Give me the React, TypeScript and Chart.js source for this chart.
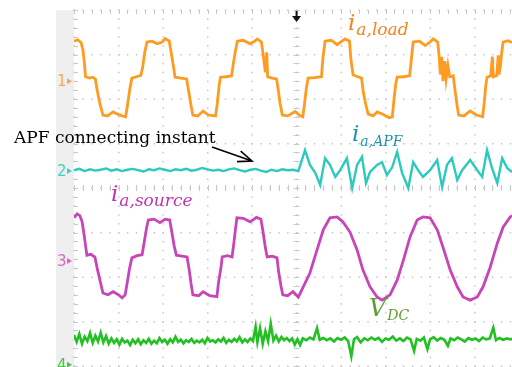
import React, { useEffect, useRef } from "react";
import { Chart, registerables } from "chart.js";

Chart.register(...registerables);

// Time axis in ms (10 ms/div), vertical axis in screen divisions (8 div, centre = 0)
const timeRange: [number, number] = [0, 98.4];
const divRange: [number, number] = [-4, 4];
const majorTimeTicks = [0, 10, 20, 30, 40, 50, 60, 70, 80, 90, 100];
const majorDivTicks = [-4, -3, -2, -1, 0, 1, 2, 3, 4];
const triggerTime = 50;

const channelNames = ["1", "2", "3", "4"];
const channelGround = [2.4, 0.38, -1.64, -3.97];

// ch1: load current
const loadCurrent: [number, number][] = [
  [0, 3.3], [0.8, 3.33], [1.6, 3.27], [2.0, 3.1], [2.3, 2.85], [2.6, 2.5], [3.5, 2.47], [4.2, 2.49], [4.8, 2.45],
  [5.2, 2.2], [5.8, 1.9], [6.5, 1.64], [7.5, 1.62], [8.8, 1.71], [9.8, 1.66], [10.8, 1.62], [11.6, 1.6], [12.0, 1.85],
  [12.5, 2.2], [13.0, 2.47], [14.0, 2.5], [15.0, 2.53], [15.4, 2.7], [15.9, 3.05], [16.4, 3.28], [17.5, 3.3], [18.7, 3.24],
  [19.8, 3.28], [20.5, 3.36], [21.4, 3.3], [21.9, 3.0], [22.4, 2.7], [22.7, 2.49], [24.0, 2.47], [25.3, 2.45], [25.8, 2.15],
  [26.3, 1.85], [26.7, 1.64], [27.8, 1.62], [29.0, 1.73], [30.2, 1.64], [31.8, 1.62], [32.2, 1.9], [32.6, 2.3], [32.9, 2.49],
  [34.2, 2.5], [35.4, 2.52], [35.8, 2.8], [36.3, 3.1], [36.7, 3.3], [38.0, 3.32], [39.6, 3.24], [40.6, 3.3], [41.2, 3.35],
  [42.1, 3.28], [42.5, 3.0], [43.0, 2.6], [43.3, 3.05], [43.5, 2.5], [44.5, 2.47], [45.5, 2.45], [45.9, 2.2], [46.3, 1.9],
  [46.8, 1.64], [48.0, 1.62], [49.7, 1.72], [50.7, 1.63], [51.4, 1.6], [51.8, 1.9], [52.2, 2.25], [52.6, 2.47], [54.0, 2.48],
  [55.6, 2.5], [55.9, 2.9], [56.4, 3.3], [57.8, 3.32], [59.1, 3.22], [60.2, 3.3], [60.9, 3.35], [61.9, 3.3], [62.2, 2.9],
  [62.7, 2.54], [63.8, 2.5], [64.6, 2.47], [65.0, 2.15], [65.6, 1.85], [66.1, 1.66], [67.2, 1.62], [68.1, 1.71], [69.5, 1.65],
  [70.8, 1.58], [71.5, 1.6], [71.9, 2.0], [72.3, 2.35], [72.6, 2.49], [74.0, 2.5], [75.4, 2.52], [75.8, 2.9], [76.2, 3.28],
  [77.6, 3.3], [78.9, 3.2], [80.0, 3.28], [80.7, 3.35], [81.7, 3.28], [82.0, 3.0], [82.3, 2.55], [82.6, 2.95], [82.9, 2.4],
  [83.3, 2.85], [83.6, 2.45], [84.0, 2.75], [84.4, 2.5], [85.2, 2.52], [85.6, 2.2], [86.0, 1.9], [86.4, 1.64], [87.6, 1.62],
  [89.0, 1.73], [90.4, 1.64], [91.8, 1.6], [92.2, 1.95], [92.5, 2.3], [92.8, 2.49], [93.6, 2.52], [94.0, 2.95], [94.2, 2.5],
  [95.0, 2.53], [95.3, 2.98], [95.5, 2.55], [95.8, 2.75], [96.1, 3.05], [96.4, 3.28], [97.5, 3.31], [98.4, 3.27],
];

// ch2: APF current
const apfCurrent: [number, number][] = [
  [0, 0.4], [1.2, 0.43], [2.4, 0.38], [3.6, 0.42], [4.8, 0.39], [6, 0.41], [7.2, 0.44], [8.4, 0.39], [9.6, 0.42],
  [10.8, 0.38], [12, 0.41], [13.2, 0.43], [14.4, 0.4], [15.6, 0.37], [16.8, 0.42], [18, 0.4], [19.2, 0.44], [20.4, 0.41],
  [21.6, 0.38], [22.8, 0.42], [24, 0.4], [25.2, 0.43], [26.4, 0.39], [27.6, 0.41], [28.8, 0.45], [30, 0.42], [31.2, 0.39],
  [32.4, 0.41], [33.6, 0.38], [34.8, 0.42], [36, 0.44], [37.2, 0.4], [38.4, 0.37], [39.6, 0.41], [40.8, 0.43], [42, 0.39],
  [43.2, 0.36], [44.4, 0.41], [45.6, 0.38], [46.8, 0.42], [48, 0.4], [49.2, 0.41], [50.4, 0.38],
  [51.9, 0.85], [53.0, 0.52], [54.2, 0.34], [55.3, 0.07], [56.4, 0.67], [57.5, 0.52], [58.7, 0.25], [59.8, 0.4],
  [61.3, 0.67], [62.5, 0.0], [63.6, 0.52], [64.7, 0.7], [65.6, 0.11], [66.5, 0.36], [68.1, 0.52], [69.2, 0.58],
  [70.3, 0.29], [71.5, 0.47], [72.6, 0.81], [73.7, 0.34], [75.1, 0.0], [76.2, 0.58], [77.3, 0.4], [78.4, 0.25],
  [80.0, 0.4], [81.6, 0.63], [82.7, 0.02], [83.8, 0.52], [84.9, 0.67], [86.1, 0.18], [87.2, 0.4], [89.0, 0.63],
  [90.6, 0.4], [91.7, 0.25], [92.8, 0.85], [93.9, 0.45], [95.1, 0.11], [96.2, 0.67], [97.3, 0.45], [98.4, 0.36],
];

// ch3: source current
const sourceCurrent: [number, number][] = [
  [0, -0.67], [0.7, -0.58], [1.3, -0.62], [1.8, -0.75], [2.2, -1.0], [2.6, -1.3], [2.9, -1.51], [3.8, -1.49], [4.7, -1.55],
  [5.2, -1.8], [5.9, -2.1], [6.5, -2.36], [7.6, -2.4], [8.8, -2.33], [10.0, -2.4], [10.8, -2.47], [11.5, -2.4], [12.0, -2.1],
  [12.5, -1.8], [13.0, -1.57], [14.2, -1.52], [15.3, -1.5], [15.8, -1.2], [16.3, -0.9], [16.7, -0.72], [18.0, -0.7],
  [19.3, -0.78], [20.5, -0.7], [21.5, -0.72], [22.0, -1.0], [22.5, -1.3], [23.0, -1.51], [24.3, -1.53], [25.4, -1.55],
  [25.9, -1.85], [26.3, -2.15], [26.7, -2.4], [28.0, -2.42], [29.0, -2.33], [30.5, -2.42], [32.1, -2.44], [32.5, -2.1],
  [33.0, -1.8], [33.3, -1.55], [34.5, -1.52], [35.5, -1.55], [35.9, -1.25], [36.3, -0.9], [36.6, -0.67], [38.0, -0.68],
  [39.6, -0.76], [41.0, -0.66], [42.0, -0.7], [42.5, -1.0], [43.0, -1.35], [43.4, -1.55], [44.6, -1.53], [45.6, -1.57],
  [46.0, -1.9], [46.5, -2.2], [46.9, -2.4], [48.0, -2.42], [49.2, -2.33], [50.4, -2.45], [51.5, -2.22], [53.0, -1.91],
  [54.6, -1.39], [56.0, -0.94], [57.5, -0.67], [59.1, -0.65], [60.4, -0.76], [62.0, -0.99], [63.6, -1.39], [64.9, -1.84],
  [66.5, -2.22], [68.1, -2.45], [69.2, -2.52], [71.0, -2.4], [72.6, -2.07], [74.0, -1.62], [75.5, -1.1], [77.1, -0.72],
  [78.4, -0.65], [80.0, -0.67], [81.6, -0.94], [82.9, -1.33], [84.5, -1.84], [86.1, -2.22], [87.4, -2.45], [89.0, -2.52],
  [90.6, -2.45], [91.9, -2.22], [93.5, -1.78], [95.1, -1.24], [96.4, -0.88], [98.0, -0.65], [98.4, -0.62],
];

// ch4: DC-link voltage ripple
const dcVoltage: [number, number][] = [
  [0, -3.3], [0.6, -3.46], [1.2, -3.28], [1.8, -3.5], [2.4, -3.34], [3.0, -3.44], [3.6, -3.26], [4.2, -3.48],
  [4.8, -3.32], [5.4, -3.45], [6.0, -3.25], [6.6, -3.47], [7.2, -3.33], [7.8, -3.5], [8.4, -3.38], [9.0, -3.48],
  [9.6, -3.4], [10.2, -3.52], [10.8, -3.39], [11.4, -3.47], [12.0, -3.43], [12.6, -3.53], [13.2, -3.41], [13.8, -3.49],
  [14.4, -3.4], [15.0, -3.51], [15.6, -3.42], [16.2, -3.48], [16.8, -3.39], [17.4, -3.5], [18.0, -3.43], [18.6, -3.49],
  [19.2, -3.37], [19.8, -3.46], [20.4, -3.41], [21.0, -3.5], [21.6, -3.4], [22.2, -3.47], [22.8, -3.34], [23.4, -3.46],
  [24.0, -3.41], [24.6, -3.49], [25.2, -3.42], [25.8, -3.46], [26.4, -3.39], [27.0, -3.48], [27.6, -3.43], [28.2, -3.47],
  [28.8, -3.41], [29.4, -3.49], [30.0, -3.37], [30.6, -3.45], [31.2, -3.42], [31.8, -3.47], [32.4, -3.4], [33.0, -3.45],
  [33.6, -3.37], [34.2, -3.48], [34.8, -3.41], [35.4, -3.46], [36.0, -3.39], [36.6, -3.45], [37.2, -3.35], [37.8, -3.47],
  [38.4, -3.4], [39.0, -3.46], [39.6, -3.38], [40.2, -3.44], [40.8, -3.12], [41.2, -3.46], [41.8, -3.15], [42.4, -3.5],
  [43.0, -3.22], [43.6, -3.44], [44.2, -3.05], [44.8, -3.43], [45.4, -3.32], [46.0, -3.45], [46.6, -3.35], [47.2, -3.42],
  [47.8, -3.37], [48.4, -3.44], [49.0, -3.38], [49.6, -3.52], [50.2, -3.4], [50.8, -3.53], [51.4, -3.38], [52.2, -3.42],
  [53.0, -3.36], [53.8, -3.4], [54.6, -3.15], [55.2, -3.41], [56.0, -3.37], [56.8, -3.42], [57.6, -3.38], [58.4, -3.45],
  [59.2, -3.37], [60.0, -3.41], [60.8, -3.36], [61.6, -3.44], [62.3, -3.78], [62.9, -3.4], [63.6, -3.35], [64.4, -3.47],
  [65.2, -3.38], [66.0, -3.42], [66.8, -3.36], [67.6, -3.41], [68.4, -3.37], [69.2, -3.46], [70.0, -3.38], [70.8, -3.41],
  [71.6, -3.34], [72.4, -3.43], [73.2, -3.38], [74.0, -3.44], [74.8, -3.36], [75.6, -3.4], [76.4, -3.66], [77.0, -3.39],
  [77.8, -3.43], [78.6, -3.36], [79.4, -3.62], [80.0, -3.4], [80.8, -3.35], [81.6, -3.43], [82.4, -3.37], [83.2, -3.41],
  [84.0, -3.55], [84.6, -3.38], [85.4, -3.42], [86.2, -3.36], [87.0, -3.4], [87.8, -3.45], [88.6, -3.37], [89.4, -3.41],
  [90.2, -3.38], [91.0, -3.44], [91.8, -3.36], [92.6, -3.4], [93.4, -3.38], [94.2, -3.14], [94.8, -3.42], [95.6, -3.37],
  [96.4, -3.41], [97.2, -3.38], [98.0, -3.4], [98.4, -3.39],
];

const traceColors = ["#ff9b21", "#2ccabd", "#c845b8", "#22c022"];
const markerColors = ["#ffa64d", "#3fd0c5", "#d46ac6", "#44c844"];

const toXY = (pts: [number, number][]) => pts.map(([x, y]) => ({ x, y }));

const scopePlugin = {
  id: "scope",
  beforeDatasetsDraw(chart: any) {
    const { ctx, chartArea, scales } = chart;
    const xs = scales.x;
    const ys = scales.y;
    const H = chart.height;
    ctx.save();
    ctx.fillStyle = "#efefef";
    ctx.fillRect(56, chartArea.top, chartArea.left - 56, H - chartArea.top);
    ctx.fillStyle = "#c6c6c6";
    for (const t of majorTimeTicks) {
      const x = xs.getPixelForValue(t);
      if (x > chart.width) continue;
      for (let k = 0; k <= 40; k++) {
        const y = ys.getPixelForValue(divRange[1] - k * 0.2);
        ctx.fillRect(x - 0.5, y - 0.5, 1.5, 1.5);
      }
    }
    for (const d of majorDivTicks) {
      const y = ys.getPixelForValue(d);
      for (let k = 0; k <= 50; k++) {
        const x = xs.getPixelForValue(k * 2);
        if (x > chart.width) continue;
        ctx.fillRect(x - 0.5, y - 0.5, 1.5, 1.5);
      }
    }
    ctx.strokeStyle = "#c8c8c8";
    ctx.lineWidth = 1;
    ctx.beginPath();
    const cx = xs.getPixelForValue(triggerTime);
    const cy = ys.getPixelForValue(0);
    for (let k = 0; k <= 40; k++) {
      const y = Math.round(ys.getPixelForValue(divRange[1] - k * 0.2)) + 0.5;
      ctx.moveTo(cx - 3, y);
      ctx.lineTo(cx + 3, y);
      ctx.moveTo(chartArea.left, y);
      ctx.lineTo(chartArea.left + 4, y);
    }
    for (let k = 0; k <= 50; k++) {
      const x = Math.round(xs.getPixelForValue(k * 2)) + 0.5;
      if (x > chart.width) continue;
      ctx.moveTo(x, cy - 3);
      ctx.lineTo(x, cy + 3);
      ctx.moveTo(x, chartArea.top);
      ctx.lineTo(x, chartArea.top + 4);
    }
    ctx.stroke();
    ctx.restore();
  },
  afterDatasetsDraw(chart: any) {
    const { ctx, scales } = chart;
    const xs = scales.x;
    const ys = scales.y;
    ctx.save();
    const tx = xs.getPixelForValue(triggerTime);
    ctx.strokeStyle = "#111";
    ctx.fillStyle = "#111";
    ctx.lineWidth = 2;
    ctx.beginPath();
    ctx.moveTo(tx, 11);
    ctx.lineTo(tx, 17);
    ctx.stroke();
    ctx.beginPath();
    ctx.moveTo(tx - 4.5, 16);
    ctx.lineTo(tx + 4.5, 16);
    ctx.lineTo(tx, 22);
    ctx.closePath();
    ctx.fill();

    channelNames.forEach((n, i) => {
      const y = ys.getPixelForValue(channelGround[i]);
      ctx.fillStyle = markerColors[i];
      ctx.font = "15px 'DejaVu Sans'";
      ctx.textBaseline = "middle";
      ctx.textAlign = "left";
      ctx.fillText(n, 57, y + 1);
      ctx.beginPath();
      ctx.moveTo(67, y - 3);
      ctx.lineTo(72, y);
      ctx.lineTo(67, y + 3);
      ctx.closePath();
      ctx.fill();
    });

    ctx.textBaseline = "alphabetic";
    const sub = (main: string, s: string, x: number, y: number, mSize: number, sSize: number, dy: number, color: string) => {
      ctx.fillStyle = color;
      ctx.font = `italic ${mSize}px 'DejaVu Serif'`;
      ctx.fillText(main, x, y);
      const w = ctx.measureText(main).width;
      ctx.font = `italic ${sSize}px 'DejaVu Serif'`;
      ctx.fillText(s, x + w + 1, y + dy);
    };
    sub("i", "a,load", 348, 30, 23, 17, 5, "#f5821f");
    sub("i", "a,APF", 352, 141, 23, 14, 5, "#1f94a8");
    sub("i", "a,source", 111, 201, 23, 17, 5, "#c233ae");
    sub("V", "DC", 369, 316, 24, 14, 4, "#5e9e2e");

    ctx.fillStyle = "#000";
    ctx.font = "17px 'DejaVu Serif'";
    ctx.fillText("APF connecting instant", 14, 143);
    const x0 = 212, y0 = 147, x1 = 252, y1 = 161;
    ctx.strokeStyle = "#000";
    ctx.lineWidth = 1.6;
    ctx.beginPath();
    ctx.moveTo(x0, y0);
    ctx.lineTo(x1, y1);
    const a = Math.atan2(y1 - y0, x1 - x0);
    const hl = 15;
    ctx.moveTo(x1 - hl * Math.cos(a - 0.38), y1 - hl * Math.sin(a - 0.38));
    ctx.lineTo(x1, y1);
    ctx.lineTo(x1 - hl * Math.cos(a + 0.38), y1 - hl * Math.sin(a + 0.38));
    ctx.stroke();
    ctx.restore();
  },
};

export default function App() {
  const ref = useRef<HTMLCanvasElement | null>(null);
  useEffect(() => {
    if (!ref.current) return;
    const series = [loadCurrent, apfCurrent, sourceCurrent, dcVoltage];
    const widths = [2.8, 2.4, 2.8, 2.6];
    const chart = new Chart(ref.current, {
      type: "line",
      data: {
        datasets: series.map((s, i) => ({
          label: `CH${channelNames[i]}`,
          data: toXY(s),
          borderColor: traceColors[i],
          borderWidth: widths[i],
          pointRadius: 0,
          tension: 0,
          fill: false,
        })),
      },
      options: {
        animation: false,
        responsive: false,
        maintainAspectRatio: false,
        layout: { padding: { left: 74, top: 10, right: 0, bottom: 1 } },
        plugins: { legend: { display: false }, tooltip: { enabled: false } },
        scales: {
          x: { type: "linear", min: timeRange[0], max: timeRange[1], display: false },
          y: { type: "linear", min: divRange[0], max: divRange[1], display: false },
        },
      },
      plugins: [scopePlugin],
    });
    return () => chart.destroy();
  }, []);
  return (
    <div style={{ position: "fixed", left: 0, top: 0, width: 512, height: 367, background: "#fff" }}>
      <canvas ref={ref} width={512} height={367} style={{ display: "block" }} />
    </div>
  );
}
